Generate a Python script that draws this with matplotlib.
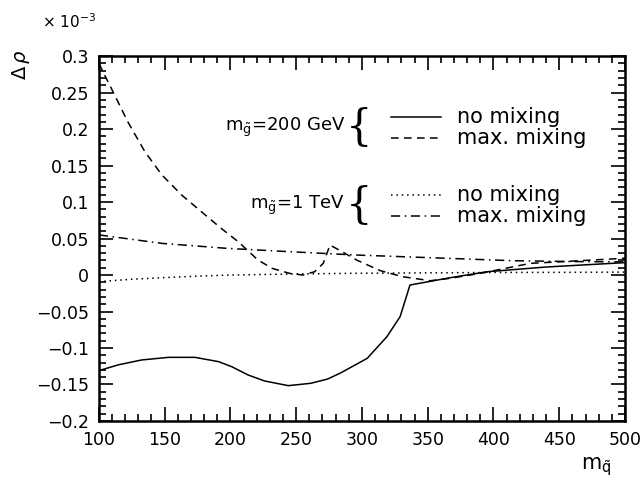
import matplotlib
matplotlib.use('Agg')
import matplotlib.pyplot as plt
from matplotlib.ticker import MultipleLocator, FuncFormatter

# Delta rho (units of 1e-3) vs squark mass
x_nomix_200 = [100, 115, 132.5, 153, 173, 191, 201, 213.5, 226, 244, 261, 274, 284, 304, 319, 329, 333,
               336.5, 367, 395, 440, 500]
y_nomix_200 = [-0.131, -0.123, -0.1164, -0.1128, -0.1128, -0.1187, -0.1256, -0.137, -0.1452, -0.1516,
               -0.1484, -0.1425, -0.1340, -0.1142, -0.0845, -0.0571, -0.0342, -0.0137, -0.0037, 0.0045,
               0.011, 0.017]

x_maxmix_200 = [100, 112, 122, 135, 148, 163, 178, 193, 206, 221, 232, 245, 255, 264, 270.6, 275.7, 283,
                296, 314, 331, 352, 367, 390, 428, 500]
y_maxmix_200 = [0.290, 0.2466, 0.210, 0.169, 0.137, 0.1096, 0.0867, 0.064, 0.0456, 0.0205, 0.009, 0.0023,
                0.0, 0.0045, 0.016, 0.041, 0.034, 0.0205, 0.006, -0.0023, -0.0078, -0.0045, 0.0023, 0.016,
                0.023]

x_nomix_1tev = [100, 125, 150, 175, 200, 250, 300, 350, 400, 450, 500]
y_nomix_1tev = [-0.009, -0.0058, -0.0035, -0.0015, 0.0, 0.0015, 0.0025, 0.003, 0.0035, 0.0037, 0.004]

x_maxmix_1tev = [100, 148, 198, 245, 296, 367, 415, 460, 500]
y_maxmix_1tev = [0.055, 0.0434, 0.0365, 0.032, 0.0274, 0.0228, 0.0196, 0.0185, 0.018]

fig = plt.figure(figsize=(6.42, 4.80), dpi=100)
ax = fig.add_axes([0.154, 0.123, 0.8195, 0.760])

lw = 1.1
ax.plot(x_nomix_200, y_nomix_200, color='k', lw=lw, ls='-')
ax.plot(x_maxmix_200, y_maxmix_200, color='k', lw=lw, ls=(0, (5, 3.5)))
ax.plot(x_nomix_1tev, y_nomix_1tev, color='k', lw=lw, ls=(0, (1, 2.5)))
ax.plot(x_maxmix_1tev, y_maxmix_1tev, color='k', lw=lw, ls=(0, (6, 3, 1, 3)))

ax.set_xlim(100, 500)
ax.set_ylim(-0.2, 0.3)

ax.xaxis.set_major_locator(MultipleLocator(50))
ax.xaxis.set_minor_locator(MultipleLocator(10))
ax.yaxis.set_major_locator(MultipleLocator(0.05))
ax.yaxis.set_minor_locator(MultipleLocator(0.01))
ax.yaxis.set_major_formatter(FuncFormatter(lambda v, p: ('%g' % round(v, 3)).replace('-', '\u2212')))
ax.tick_params(which='both', direction='in', top=True, right=True, labelsize=12.5, width=1.2)
ax.tick_params(which='major', length=10, pad=7)
ax.tick_params(which='minor', length=5)
for s in ax.spines.values():
    s.set_linewidth(1.8)

# axis texts
fig.text(0.065, 0.955, r'$\times$ 10$^{-3}$', fontsize=11, ha='left', va='center')
fig.text(0.032, 0.865, r'$\Delta\,\rho$', fontsize=14, rotation=90, ha='center', va='center')
fig.text(0.905, 0.028, r'm$_{\tilde{\mathrm{q}}}$', fontsize=15, ha='left', va='center')

# legend block
fs = 15
ax.text(0.468, 0.804, r'm$_{\tilde{\mathrm{g}}}$=200 GeV', transform=ax.transAxes, fontsize=13,
        ha='right', va='center')
ax.text(0.468, 0.590, r'm$_{\tilde{\mathrm{g}}}$=1 TeV', transform=ax.transAxes, fontsize=13,
        ha='right', va='center')
for yb in (0.804, 0.590):
    ax.text(0.470, yb, '{', transform=ax.transAxes, fontsize=30, family='DejaVu Serif',
            ha='left', va='center')

entries = [(0.833, '-', 'no mixing'), (0.776, (0, (5, 3.5)), 'max. mixing'),
           (0.619, (0, (1, 2.5)), 'no mixing'), (0.562, (0, (6, 3, 1, 3)), 'max. mixing')]
for yy, style, lab in entries:
    ax.plot([0.555, 0.650], [yy, yy], transform=ax.transAxes, color='k', lw=lw, ls=style)
    ax.text(0.680, yy, lab, transform=ax.transAxes, fontsize=fs, ha='left', va='center')

fig.savefig('out.png', dpi=100)
